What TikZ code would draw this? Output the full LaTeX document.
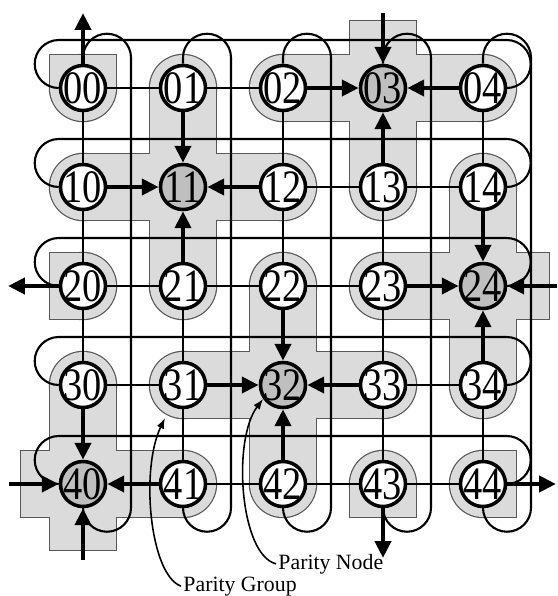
\documentclass[tikz,border=0pt]{standalone}
\usepackage{fontspec}
\setmainfont{Liberation Serif}
\usetikzlibrary{arrows.meta,backgrounds}

\tikzset{
  >={Triangle[length=4.8pt,width=4.5pt]},
  datanode/.style={circle, draw, line width=1pt, fill=white, inner sep=0pt,
    minimum size=0.45cm, font=\fontsize{11.5}{12}\selectfont},
  paritynode/.style={datanode, fill=gray!50},
  kind0/.style={datanode},
  kind1/.style={paritynode},
  wire/.style={line width=0.6pt},
  flow/.style={line width=1.3pt},
  link00/.style={wire},
  link01/.style={flow, ->},
  link10/.style={flow, <-},
  groupfill/.style={fill=gray!28},
  pass0/.style={groupfill, draw=black!65, line width=0.7pt},
  pass1/.style={groupfill},
  pointer/.style={line width=0.45pt, -{Latex[length=3pt,width=2.2pt]}},
  tag/.style={font=\fontsize{6.2}{7}\selectfont, inner sep=0.5pt}
}

\begin{document}
\begin{tikzpicture}[x=0.01cm, y=-0.01cm]
\useasboundingbox (0,0) rectangle (558,596);

% Nodes of the 5x5 grid, parity nodes where (c+2r) mod 5 = 3
\foreach \r in {0,...,4}
  \foreach \c in {0,...,4} {
    \pgfmathtruncatemacro\kind{mod(\c+2*\r,5)==3}
    \node[kind\kind] (n\r\c) at ({83+100*\c},{88+99*\r})
      {\makebox[0pt]{\scalebox{0.95}[1.15]{\r\c}}};
  }

\begin{scope}[on background layer]
  % Parity groups (outline first, then fill over the inner edges)
  \foreach \pass in {0,1} {
    \foreach \xa/\ya/\xb/\yb in {150/88/216/286, 83/154/283/220,
        250/286/316/484, 183/352/383/418,
        350/21/416/187, 283/55/483/121, 350/484/416/517,
        450/187/516/385, 383/253/549/319, 50/253/83/319,
        50/385/116/550, 21/451/183/517, 483/451/516/517, 50/55/116/88}
      \path[pass\pass] (\xa,\ya) rectangle (\xb,\yb);
    \foreach \h in {00,01,02,04,10,12,13,14,20,21,22,23,30,31,33,34,41,42,43,44}
      \path[pass\pass] (n\h) circle (33);
  }

  % Wrap-around wires
  \foreach \r in {0,...,4}
    \draw[wire] (n\r0.west) arc(90:270:24) -- ++(448,0) arc(-90:90:24) -- (n\r4.east);
  \foreach \c in {0,...,4}
    \draw[wire] (n0\c.north) -- ++(0,-6) arc(180:360:24) -- ++(0,450) arc(0:180:24) -- (n4\c.south);

  % Links between neighbours
  \foreach \r in {0,...,4}
    \foreach \c in {0,...,3} {
      \pgfmathtruncatemacro\colnext{\c+1}
      \pgfmathtruncatemacro\ka{mod(\c+2*\r,5)==3}
      \pgfmathtruncatemacro\kb{mod(\c+1+2*\r,5)==3}
      \draw[link\ka\kb] (n\r\c.east) -- (n\r\colnext.west);
    }
  \foreach \r in {0,...,3}
    \foreach \c in {0,...,4} {
      \pgfmathtruncatemacro\rownext{\r+1}
      \pgfmathtruncatemacro\ka{mod(\c+2*\r,5)==3}
      \pgfmathtruncatemacro\kb{mod(\c+2*\r+2,5)==3}
      \draw[link\ka\kb] (n\r\c.south) -- (n\rownext\c.north);
    }
\end{scope}

% Arrows across the border
\coordinate (top0) at (83,13);
\coordinate (top3) at (383,13);
\coordinate (left2) at (8,286);
\coordinate (right2) at (557,286);
\coordinate (left4) at (9,484);
\coordinate (right4) at (556,484);
\coordinate (bottom0) at (83,560);
\coordinate (bottom3) at (383,558);
\draw[flow,->] (n00.north) -- (top0);
\draw[flow,->] (top3) -- (n03.north);
\draw[flow,->] (n20.west) -- (left2);
\draw[flow,->] (right2) -- (n24.east);
\draw[flow,->] (left4) -- (n40.west);
\draw[flow,->] (n44.east) -- (right4);
\draw[flow,->] (bottom0) -- (n40.south);
\draw[flow,->] (n43.south) -- (bottom3);

% Labels
\node[tag, anchor=base west] (pgroup) at (181,591) {Parity Group};
\node[tag, anchor=base west] (pnode) at (276,569) {Parity Node};
\coordinate (grouptip) at (165,418);
\draw[pointer] (pgroup.west) .. controls (150,575) and (140,470) .. (grouptip);
\draw[pointer] (pnode.west) .. controls (240,555) and (232,440) .. (n32.215);
\end{tikzpicture}
\end{document}
